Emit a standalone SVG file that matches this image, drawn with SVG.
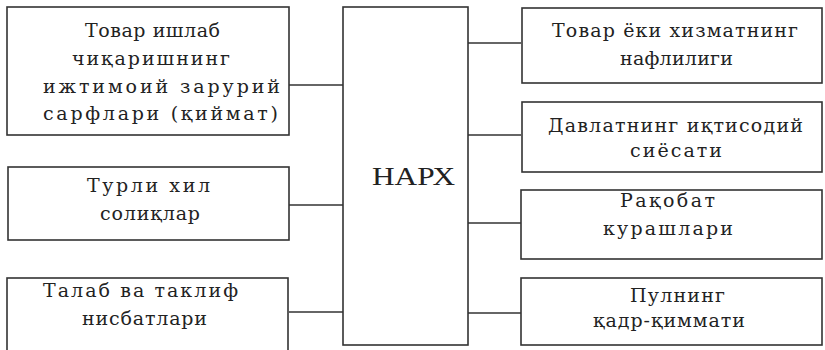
<svg xmlns="http://www.w3.org/2000/svg" width="825" height="350" viewBox="0 0 825 350">
<style>
.box{fill:#fff;stroke:#333;stroke-width:1.6}
.t{font-family:"DejaVu Serif","Liberation Serif",serif;font-size:19px;fill:#222}
.big{font-family:"Liberation Serif","DejaVu Serif",serif;font-size:26px;fill:#222}
.c{stroke:#333;stroke-width:1.6;fill:none}
</style>
<rect width="825" height="350" fill="#fff"/>
<g id="connectors">
<line class="c" x1="289" y1="85" x2="343" y2="85"/>
<line class="c" x1="289" y1="205" x2="343" y2="205"/>
<line class="c" x1="289" y1="312" x2="343" y2="312"/>
<line class="c" x1="468" y1="43" x2="521" y2="43"/>
<line class="c" x1="468" y1="135" x2="521" y2="135"/>
<line class="c" x1="468" y1="223" x2="521" y2="223"/>
<line class="c" x1="468" y1="313" x2="521" y2="313"/>
</g>
<g id="narkh">
<rect class="box" x="343" y="7" width="125" height="338"/>
<text class="big" x="372" y="185" textLength="83" lengthAdjust="spacingAndGlyphs">НАРХ</text>
</g>
<g id="l1">
<rect class="box" x="7" y="7" width="282" height="128"/>
<text class="t" x="85" y="37" textLength="135" lengthAdjust="spacing">Товар ишлаб</text>
<text class="t" x="72" y="65" textLength="158" lengthAdjust="spacing">чиқаришнинг</text>
<text class="t" x="43" y="93" textLength="237" lengthAdjust="spacing">ижтимоий зарурий</text>
<text class="t" x="43" y="120" textLength="235" lengthAdjust="spacing">сарфлари (қиймат)</text>
</g>
<g id="l2">
<rect class="box" x="8" y="167" width="281" height="73"/>
<text class="t" x="87" y="192" textLength="123" lengthAdjust="spacing">Турли хил</text>
<text class="t" x="100" y="220" textLength="100" lengthAdjust="spacing">солиқлар</text>
</g>
<g id="l3">
<rect class="box" x="7" y="278" width="281" height="80"/>
<text class="t" x="43" y="297" textLength="195" lengthAdjust="spacing">Талаб ва таклиф</text>
<text class="t" x="82" y="325" textLength="125" lengthAdjust="spacing">нисбатлари</text>
</g>
<g id="r1">
<rect class="box" x="522" y="8" width="300" height="75"/>
<text class="t" x="552" y="37" textLength="246" lengthAdjust="spacing">Товар ёки хизматнинг</text>
<text class="t" x="620" y="65" textLength="113" lengthAdjust="spacing">нафлилиги</text>
</g>
<g id="r2">
<rect class="box" x="522" y="102" width="300" height="70"/>
<text class="t" x="548" y="132" textLength="255" lengthAdjust="spacing">Давлатнинг иқтисодий</text>
<text class="t" x="630" y="157" textLength="92" lengthAdjust="spacing">сиёсати</text>
</g>
<g id="r3">
<rect class="box" x="521" y="190" width="301" height="69"/>
<text class="t" x="620" y="207" textLength="95" lengthAdjust="spacing">Рақобат</text>
<text class="t" x="603" y="235" textLength="130" lengthAdjust="spacing">курашлари</text>
</g>
<g id="r4">
<rect class="box" x="521" y="278" width="301" height="67"/>
<text class="t" x="630" y="302" textLength="95" lengthAdjust="spacing">Пулнинг</text>
<text class="t" x="593" y="327" textLength="152" lengthAdjust="spacing">қадр-қиммати</text>
</g>
</svg>
